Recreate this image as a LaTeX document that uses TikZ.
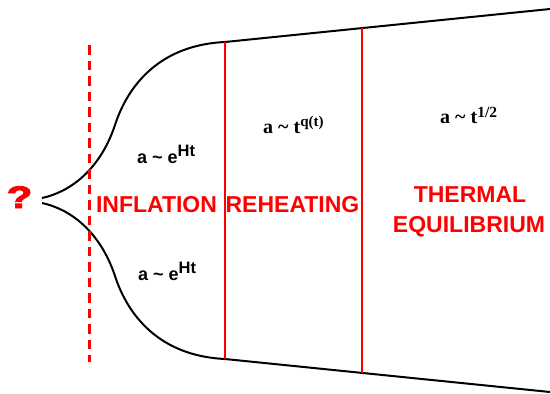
\documentclass[tikz,border=0pt]{standalone}
\usepackage{fontspec}
\setmainfont{Liberation Sans}
\newfontfamily\serifb{Liberation Serif}
\newfontfamily\qfont{Liberation Sans}[UprightFont=* Bold, UprightFeatures={FakeBold=3}]
\begin{document}
\begin{tikzpicture}[x=1pt,y=-1pt,
  curve/.style={line width=2pt, black},
  wall/.style={line width=2.2pt, red},
  dashwall/.style={line width=3pt, red, dash pattern=on 9.5pt off 6pt},
  phase/.style={font=\fontsize{23}{27}\selectfont\bfseries, text=red, inner sep=0pt, anchor=base},
  law/.style={inner sep=0pt, anchor=base west}]
\useasboundingbox (0,0) rectangle (550,394);
% upper boundary
\coordinate (u0) at (42,198);
\coordinate (ui) at (115,125);
\coordinate (u1) at (225,42);
\coordinate (u2) at (362,28);
\coordinate (u3) at (550,9);
% lower boundary
\coordinate (l0) at (42,203);
\coordinate (li) at (115,276);
\coordinate (l1) at (225,359);
\coordinate (l2) at (362,373);
\coordinate (l3) at (550,392);
% dashed line ends
\coordinate (d0) at (89,45);
\coordinate (d1) at (89,362);

\draw[curve] (u0) .. controls (70,192) and (100,170) .. (ui)
  .. controls (128,85) and (160,45) .. (u1) -- (u3);
\draw[curve] (l0) .. controls (70,209) and (100,231) .. (li)
  .. controls (128,316) and (160,356) .. (l1) -- (l3);

\draw[dashwall] (d0) -- (d1);
\draw[wall] (u1) -- (l1);
\draw[wall] (u2) -- (l2);

\node[inner sep=0pt, anchor=base, text=red, font=\qfont\fontsize{31}{33}\selectfont] (q) at (19.5,208) {\scalebox{1.35}[1]{?}};

\node[phase] (infl) at (156.5,212) {INFLATION};
\node[phase] (reh) at (292.5,212) {REHEATING};
\node[phase] (therm) at (470,202) {THERMAL};
\node[phase] (equi) at (469,232) {EQUILIBRIUM};

\node[law, font=\fontsize{18}{20}\selectfont\bfseries] (eu) at (137,163)
  {a \textasciitilde{} e\raisebox{7pt}{\fontsize{16.5}{18}\selectfont Ht}};
\node[law, font=\fontsize{18}{20}\selectfont\bfseries] (el) at (138,280)
  {a \textasciitilde{} e\raisebox{7pt}{\fontsize{16.5}{18}\selectfont Ht}};
\node[law, font=\serifb\bfseries\fontsize{20}{22}\selectfont] (tq) at (263,133)
  {a \textasciitilde{} t\raisebox{6.7pt}{\fontsize{15}{17}\selectfont q(t)}};
\node[law, font=\serifb\bfseries\fontsize{20}{22}\selectfont] (th) at (440,123)
  {a \textasciitilde{} t\raisebox{5.6pt}{\fontsize{15.5}{17}\selectfont 1/2}};
\end{tikzpicture}
\end{document}
